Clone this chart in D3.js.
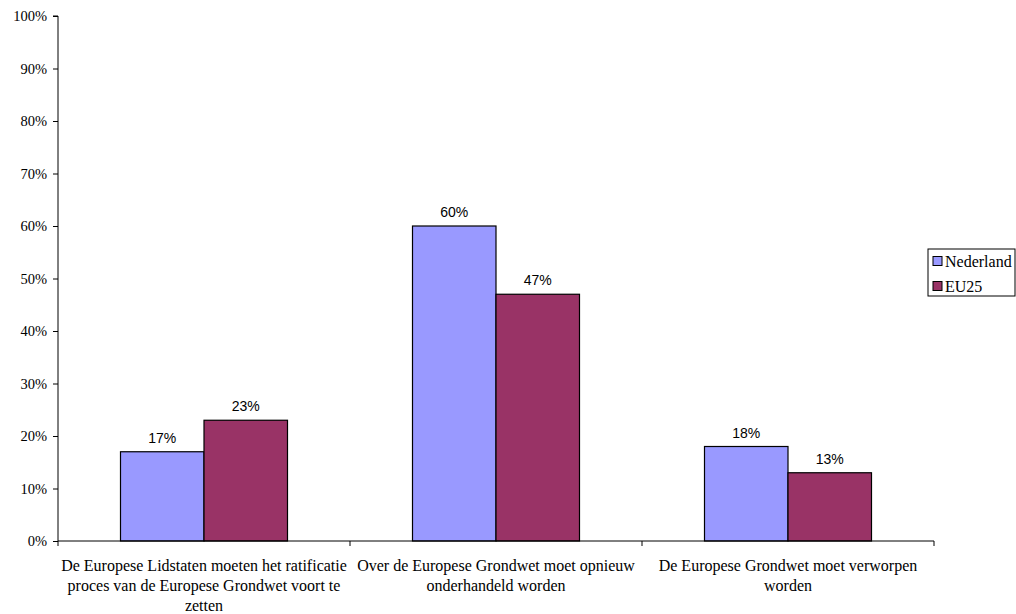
<!DOCTYPE html>
<html><head><meta charset="utf-8">
<script src="https://cdn.jsdelivr.net/npm/d3@7"></script>
<style>body{margin:0;background:#fff}svg{display:block}</style>
</head><body>
<svg id="c" width="1016" height="614"></svg>
<script>
const categories = [
  ["De Europese Lidstaten moeten het ratificatie", "proces van de Europese Grondwet voort te", "zetten"],
  ["Over de Europese Grondwet moet opnieuw", "onderhandeld worden"],
  ["De Europese Grondwet moet verworpen", "worden"]
];
const seriesNames = ["Nederland", "EU25"];
const nederland = [17, 60, 18];
const eu25 = [23, 47, 13];
const colors = ["#9999FF", "#993366"];
const yTicks = [0,10,20,30,40,50,60,70,80,90,100];

const SERIF = "'Liberation Serif', 'Times New Roman', Times, 'DejaVu Serif', serif";
const SANS = "'Liberation Sans', Arial, sans-serif";

const svg = d3.select("#c");
const pLeft = 58, pRight = 934, pTop = 16, pBottom = 541;
const x = d3.scaleBand().domain(d3.range(categories.length)).range([pLeft, pRight]).paddingInner(0).paddingOuter(0);
const y = d3.scaleLinear().domain([0, 100]).range([pBottom, pTop]);
const groupFrac = 167/292;
const xs = d3.scaleBand().domain(d3.range(seriesNames.length))
  .range([0, x.bandwidth()*groupFrac]).padding(0);
const off = x.bandwidth()*(1-groupFrac)/2;

const series = [nederland, eu25];
series.forEach((vals, si) => {
  const g = svg.append("g");
  g.selectAll("rect").data(vals).join("rect")
    .attr("x", (d,i) => x(i) + off + xs(si))
    .attr("y", d => y(d))
    .attr("width", xs.bandwidth())
    .attr("height", d => y(0) - y(d))
    .attr("fill", colors[si])
    .attr("stroke", "#000").attr("stroke-width", 1.2);
  g.selectAll("text").data(vals).join("text")
    .attr("x", (d,i) => x(i) + off + xs(si) + xs.bandwidth()/2)
    .attr("y", d => y(d) - 9)
    .attr("text-anchor", "middle")
    .style("font-family", SANS)
    .style("font-size", "14px").attr("fill", "#000")
    .text(d => d + "%");
});

// Y axis
const yAxis = d3.axisLeft(y).tickValues(yTicks).tickSize(5).tickPadding(6).tickFormat(d => d + "%");
const ya = svg.append("g").attr("transform", `translate(${pLeft},0)`).call(yAxis);
ya.select(".domain").attr("stroke", "#000").attr("d", `M-5,${pTop}H0V${pBottom}`);
ya.selectAll(".tick line").attr("stroke", "#000");
ya.selectAll("text").style("font-family", SERIF).style("font-size", "14.5px").attr("fill", "#000");

// X axis
const xa = svg.append("g").attr("transform", `translate(0,${pBottom})`);
xa.append("line").attr("x1", pLeft).attr("x2", pRight).attr("y1", 0).attr("y2", 0).attr("stroke", "#000");
const bounds = d3.range(categories.length + 1).map(i => i < categories.length ? x(i) : pRight);
xa.selectAll("line.t").data(bounds).join("line").attr("class", "t")
  .attr("x1", d => d).attr("x2", d => d).attr("y1", 0).attr("y2", 5).attr("stroke", "#000");
categories.forEach((lines, i) => {
  const t = xa.append("text").attr("text-anchor", "middle")
    .style("font-family", SERIF)
    .style("font-size", "16px").attr("fill", "#000");
  lines.forEach((ln, k) => {
    t.append("tspan").attr("x", x(i) + x.bandwidth()/2).attr("y", 30 + k*20).text(ln);
  });
});

// Legend
const lg = svg.append("g");
lg.append("rect").attr("x", 928).attr("y", 249).attr("width", 87).attr("height", 47)
  .attr("fill", "#fff").attr("stroke", "#000").attr("stroke-width", 1);
seriesNames.forEach((n, i) => {
  const cy = 261 + i*25;
  lg.append("rect").attr("x", 933).attr("y", cy - 4.5).attr("width", 9).attr("height", 9)
    .attr("fill", colors[i]).attr("stroke", "#000").attr("stroke-width", 1);
  lg.append("text").attr("x", 945).attr("y", cy + 5.5)
    .style("font-family", SERIF)
    .style("font-size", "16px").attr("fill", "#000").text(n);
});
</script>
</body></html>
